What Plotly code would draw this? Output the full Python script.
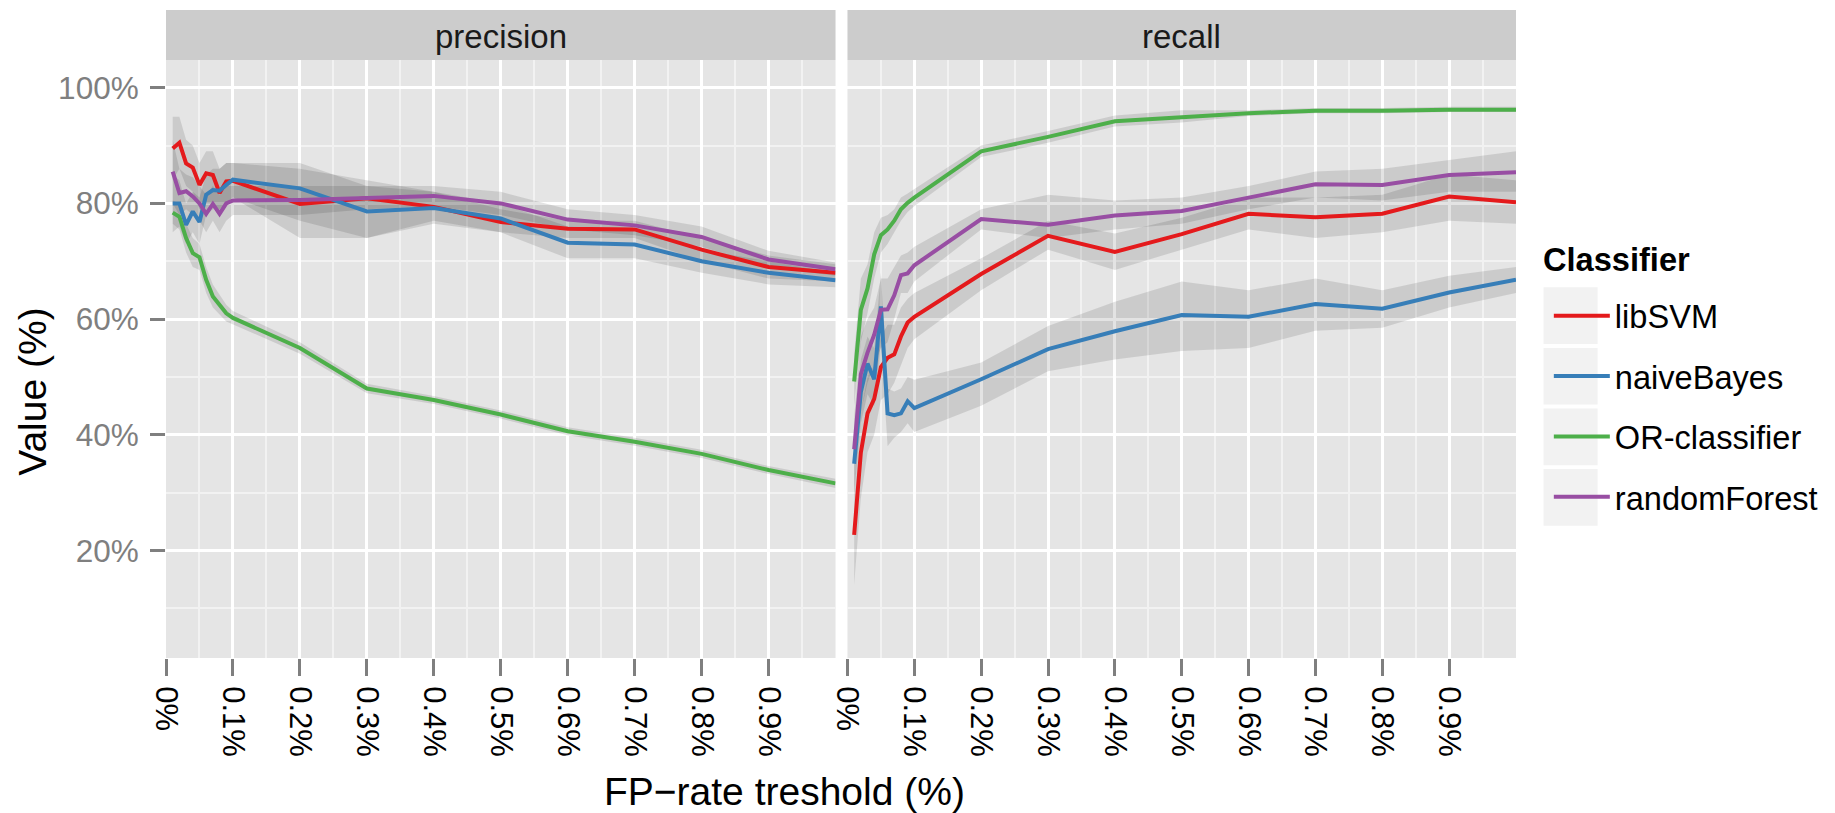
import plotly.graph_objects as go

# ---------------- data ----------------
fp_rate = [0.01, 0.02, 0.03, 0.04, 0.05, 0.06, 0.07, 0.08, 0.09, 0.1,
           0.2, 0.3, 0.4, 0.5, 0.6, 0.7, 0.8, 0.9, 1.0]

classifiers = ["libSVM", "naiveBayes", "OR-classifier", "randomForest"]
colors = ["#E41A1C", "#377EB8", "#4DAF4A", "#984EA3"]
facets = ["precision", "recall"]

x_tick_vals = [0, 0.1, 0.2, 0.3, 0.4, 0.5, 0.6, 0.7, 0.8, 0.9]
x_tick_text = ["0%", "0.1%", "0.2%", "0.3%", "0.4%", "0.5%", "0.6%", "0.7%", "0.8%", "0.9%"]
y_tick_vals = [20, 40, 60, 80, 100]
y_tick_text = ["20%", "40%", "60%", "80%", "100%"]

# precision
prec_libSVM = [89.5, 90.5, 86.9, 86.2, 83.2, 85.2, 84.9, 81.8, 83.8, 83.9,
               79.9, 80.9, 79.4, 76.8, 75.6, 75.5, 72.0, 69.0, 68.0]
prec_libSVM_lo = [84, 86, 83, 82, 79, 80, 80, 78, 80, 81,
                  74, 74, 77, 75, 74, 74, 70, 67, 66.5]
prec_libSVM_hi = [95, 95, 91, 90, 87, 89, 89, 86, 87, 87,
                  86, 84, 82, 79, 77, 77, 74, 71, 69.5]

prec_naiveBayes = [80.0, 80.0, 76.3, 78.6, 76.8, 81.5, 82.3, 82.2, 83.2, 84.1,
                   82.6, 78.6, 79.2, 77.4, 73.2, 72.9, 70.0, 68.0, 66.7]
prec_naiveBayes_lo = [75, 76, 73, 75, 73, 78, 79, 79, 80, 81,
                      77, 74, 76.5, 75, 70.5, 70.5, 68, 66, 65.5]
prec_naiveBayes_hi = [85, 84, 80, 82, 81, 85, 86, 86, 87, 87,
                      87, 83, 82, 80, 76, 75.5, 72, 70, 68]

prec_OR = [78.4, 77.7, 74.0, 71.4, 70.7, 66.8, 63.9, 62.5, 61.0, 60.2,
           55.0, 48.0, 46.0, 43.5, 40.6, 38.8, 36.7, 33.9, 31.6]
prec_OR_lo = [76.5, 75.5, 71.5, 69, 68.5, 64.5, 62, 60.8, 59.6, 59,
              54, 47.2, 45.3, 42.8, 39.9, 38.1, 36, 33.2, 30.8]
prec_OR_hi = [80.5, 80, 76.5, 74, 73, 69, 66, 64.2, 62.5, 61.4,
              56, 48.8, 46.7, 44.2, 41.3, 39.5, 37.4, 34.6, 32.4]

prec_randomForest = [85.5, 81.8, 82.1, 81.2, 80.0, 78.2, 79.9, 78.2, 80.0, 80.5,
                     80.6, 80.9, 81.3, 80.0, 77.2, 76.2, 74.2, 70.3, 68.6]
prec_randomForest_lo = [80, 78, 79, 78, 77, 75, 77, 75, 77, 78,
                        78, 79, 79.5, 78, 75.5, 74.5, 72.5, 69, 67.5]
prec_randomForest_hi = [91, 86, 85, 84.5, 83, 81.5, 83, 81.5, 83, 83,
                        83, 83, 83, 82, 79, 78, 76, 71.8, 69.8]

# recall
rec_libSVM = [22.7, 36.9, 43.7, 46.2, 51.7, 53.3, 53.9, 57.0, 59.4, 60.4,
              67.8, 74.4, 71.6, 74.7, 78.2, 77.6, 78.2, 81.2, 80.2]
rec_libSVM_lo = [14, 29, 37, 40, 46, 47, 49, 52, 55, 56.5,
                 65, 72, 68.5, 72, 75.5, 74, 75, 77, 76.5]
rec_libSVM_hi = [32, 44, 50, 52, 57, 59, 59, 62, 63.5, 64.5,
                 70.5, 77, 74.8, 77.5, 81, 81, 81.5, 85, 84]

rec_naiveBayes = [35.0, 47.4, 52.3, 49.6, 62.2, 43.7, 43.4, 43.7, 45.8, 44.6,
                  49.6, 54.8, 57.9, 60.7, 60.4, 62.6, 61.8, 64.6, 66.8]
rec_naiveBayes_lo = [30, 42, 47, 45, 56, 38, 39.5, 40.5, 42, 40.5,
                     45, 51, 53, 54.5, 55, 58, 58.5, 62, 64.5]
rec_naiveBayes_hi = [40, 53, 57, 55, 68, 48, 47.5, 48, 50, 49.5,
                     52.5, 58.8, 63, 66.5, 65, 67, 65, 67.5, 69]

rec_OR = [49.2, 61.6, 65.3, 71.2, 74.5, 75.5, 77.0, 79.0, 80.1, 81.0,
          89.0, 91.5, 94.2, 94.9, 95.6, 96.0, 96.0, 96.2, 96.2]
rec_OR_lo = [45, 56, 61, 67, 71.5, 73, 75, 77, 78.5, 79.5,
             88, 90.5, 93.3, 94.0, 95.1, 95.6, 95.6, 95.8, 95.8]
rec_OR_hi = [54, 67, 69.5, 75, 77.5, 78, 79, 81, 81.7, 82.5,
             90, 92.5, 95.2, 96.1, 96.1, 96.5, 96.5, 96.7, 96.7]

rec_randomForest = [37.5, 50.5, 54.2, 57.3, 61.6, 61.7, 64.1, 67.6, 67.9, 69.3,
                    77.3, 76.3, 77.9, 78.7, 81.0, 83.3, 83.2, 84.9, 85.4]
rec_randomForest_lo = [32, 44, 49, 52, 55, 56, 60, 64.5, 64.5, 66.5,
                       75.5, 74.0, 75.5, 76.5, 79, 81, 80.5, 82, 82]
rec_randomForest_hi = [43, 57, 60, 62, 67, 67, 69, 71, 71.5, 72.5,
                       79, 81.5, 80.5, 81, 83, 85.5, 86, 87.5, 89]

precision_vals = [prec_libSVM, prec_naiveBayes, prec_OR, prec_randomForest]
precision_lo = [prec_libSVM_lo, prec_naiveBayes_lo, prec_OR_lo, prec_randomForest_lo]
precision_hi = [prec_libSVM_hi, prec_naiveBayes_hi, prec_OR_hi, prec_randomForest_hi]
recall_vals = [rec_libSVM, rec_naiveBayes, rec_OR, rec_randomForest]
recall_lo = [rec_libSVM_lo, rec_naiveBayes_lo, rec_OR_lo, rec_randomForest_lo]
recall_hi = [rec_libSVM_hi, rec_naiveBayes_hi, rec_OR_hi, rec_randomForest_hi]

# ---------------- figure ----------------
OFF = 8                      # page body margin
W, H = 1835 - OFF, 813 - OFF
ML, MR, MT, MB = 166 - OFF, 312, 60 - OFF, 155
PW = W - ML - MR
PH = H - MT - MB
FONT = "Liberation Sans, Arial, Helvetica, sans-serif"

def px_x(sx):
    """screen x pixel -> paper coordinate"""
    return (sx - OFF - ML) / PW

def px_y(sy):
    """screen y pixel -> paper coordinate"""
    return (H - MB - (sy - OFF)) / PH

dom1 = [0, 673 / PW]
dom2 = [685 / PW, 1]

fig = go.Figure()

panels = [("x", "y", precision_vals, precision_lo, precision_hi),
          ("x2", "y2", recall_vals, recall_lo, recall_hi)]

# ribbons first
for xa, ya, vals, los, his in panels:
    for i, name in enumerate(classifiers):
        fig.add_trace(go.Scatter(
            x=fp_rate + fp_rate[::-1],
            y=his[i] + los[i][::-1],
            xaxis=xa, yaxis=ya,
            mode="lines", fill="toself",
            fillcolor="rgba(0,0,0,0.11)",
            line=dict(width=0),
            hoverinfo="skip", showlegend=False))

# lines on top
for k, (xa, ya, vals, los, his) in enumerate(panels):
    for i, name in enumerate(classifiers):
        fig.add_trace(go.Scatter(
            x=fp_rate, y=vals[i],
            xaxis=xa, yaxis=ya,
            mode="lines", name=name,
            legendgroup=name,
            line=dict(color=colors[i], width=4),
            showlegend=(k == 0)))

shapes = []
# panel backgrounds
for xr, yr in [("x domain", "y domain"), ("x2 domain", "y2 domain")]:
    shapes.append(dict(type="rect", xref=xr, yref=yr, x0=0, x1=1, y0=0, y1=1,
                       fillcolor="#E5E5E5", line=dict(width=0), layer="below"))
# strips
for d in (dom1, dom2):
    shapes.append(dict(type="rect", xref="paper", yref="paper",
                       x0=d[0], x1=d[1], y0=1.0, y1=px_y(10),
                       fillcolor="#CCCCCC", line=dict(width=0), layer="below"))
# legend key backgrounds
for i in range(len(classifiers)):
    top = 287.3 + i * 60.6
    shapes.append(dict(type="rect", xref="paper", yref="paper",
                       x0=px_x(1550.7), x1=px_x(1605),
                       y0=px_y(top + 56.7), y1=px_y(top),
                       fillcolor="#F2F2F2", line=dict(width=0), layer="below"))

annotations = []
for d, name in zip((dom1, dom2), facets):
    annotations.append(dict(text=name, xref="paper", yref="paper",
                            x=(d[0] + d[1]) / 2, y=px_y(36),
                            xanchor="center", yanchor="middle", showarrow=False,
                            font=dict(family=FONT, size=33, color="#1A1A1A")))
annotations.append(dict(text="FP\u2212rate treshold (%)", xref="paper", yref="paper",
                        x=px_x(788), y=px_y(791), xanchor="center", yanchor="middle",
                        showarrow=False, font=dict(family=FONT, size=39, color="black")))
annotations.append(dict(text="Value (%)", xref="paper", yref="paper",
                        x=px_x(31), y=px_y(392), xanchor="center", yanchor="middle",
                        textangle=-90, showarrow=False,
                        font=dict(family=FONT, size=39, color="black")))
annotations.append(dict(text="<b>Classifier</b>", xref="paper", yref="paper",
                        x=px_x(1548), y=px_y(259), xanchor="left", yanchor="middle",
                        showarrow=False, font=dict(family=FONT, size=32.6, color="black")))

xaxis_common = dict(
    range=[0, 1], tickmode="array", tickvals=x_tick_vals, ticktext=x_tick_text,
    tickangle=90, ticks="outside", ticklen=17, tickwidth=3, tickcolor="#7F7F7F",
    ticklabelstandoff=4,
    tickfont=dict(family=FONT, size=31, color="black"),
    showgrid=True, gridcolor="white", gridwidth=2.5,
    minor=dict(tickmode="array", tickvals=[0.05, 0.15, 0.25, 0.35, 0.45, 0.55, 0.65, 0.75, 0.85, 0.95],
               showgrid=True, gridcolor="#F2F2F2", gridwidth=1.5, ticks=""),
    zeroline=False, showline=False, fixedrange=True,
)
yaxis_common = dict(
    range=[1.41, 104.79], tickmode="array", tickvals=y_tick_vals, ticktext=y_tick_text,
    ticks="outside", ticklen=15, tickwidth=3, tickcolor="#7F7F7F",
    tickfont=dict(family=FONT, size=31.5, color="#7F7F7F"),
    showgrid=True, gridcolor="white", gridwidth=2.5,
    minor=dict(tickmode="array", tickvals=[10, 30, 50, 70, 90],
               showgrid=True, gridcolor="#F2F2F2", gridwidth=1.5, ticks=""),
    zeroline=False, showline=False, fixedrange=True,
)

fig.update_layout(
    width=W, height=H,
    margin=dict(l=ML, r=MR, t=MT, b=MB, pad=0),
    paper_bgcolor="white", plot_bgcolor="white",
    font=dict(family=FONT, color="black"),
    xaxis=dict(domain=dom1, anchor="y", **xaxis_common),
    xaxis2=dict(domain=dom2, anchor="y2", **xaxis_common),
    yaxis=dict(domain=[0, 1], anchor="x", ticklabelstandoff=5, **yaxis_common),
    yaxis2=dict(domain=[0, 1], anchor="x2", matches="y", showticklabels=False,
                **{k: v for k, v in yaxis_common.items() if k not in ("ticks", "tickfont")},
                ticks=""),
    shapes=shapes,
    annotations=annotations,
    showlegend=True,
    legend=dict(
        font=dict(family=FONT, size=32.6, color="black"),
        x=px_x(1556), y=px_y(288), xanchor="left", yanchor="top",
        itemwidth=56,
        bgcolor="rgba(0,0,0,0)", tracegroupgap=15, itemclick=False, itemdoubleclick=False,
    ),
)

fig.write_html("out.html")
